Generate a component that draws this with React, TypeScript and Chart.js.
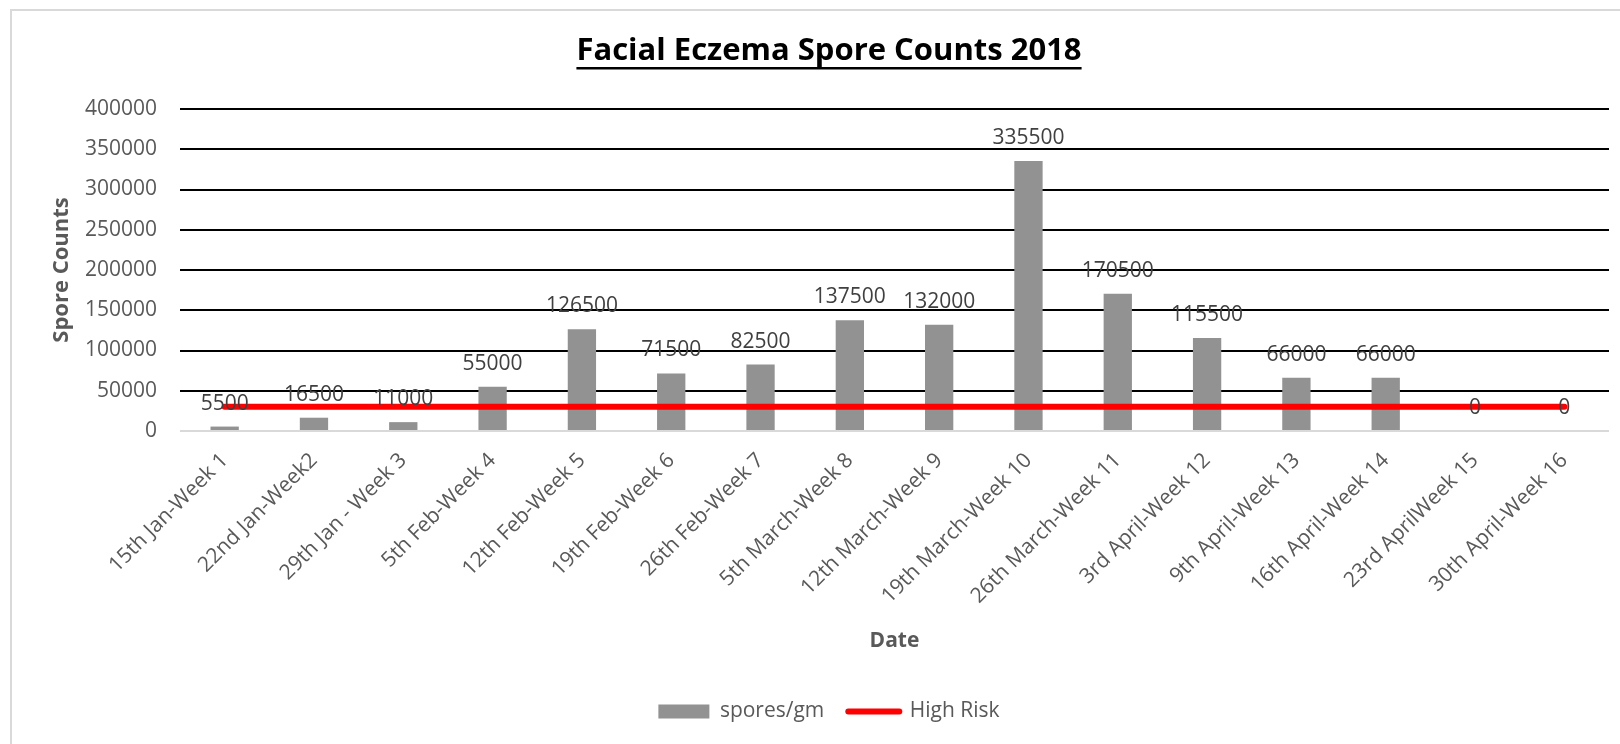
import React, { useEffect, useRef } from 'react';
import { Chart, registerables } from 'chart.js';

Chart.register(...registerables);

const chartTitle = 'Facial Eczema Spore Counts 2018';
const xAxisTitle = 'Date';
const yAxisTitle = 'Spore Counts';

const categories = [
  '15th Jan-Week 1',
  '22nd Jan-Week2',
  '29th Jan - Week 3',
  '5th Feb-Week 4',
  '12th Feb-Week 5',
  '19th Feb-Week 6',
  '26th Feb-Week 7',
  '5th March-Week 8',
  '12th March-Week 9',
  '19th March-Week 10',
  '26th March-Week 11',
  '3rd April-Week 12',
  '9th April-Week 13',
  '16th April-Week 14',
  '23rd AprilWeek 15',
  '30th April-Week 16',
];

const sporeCounts = [
  5500, 16500, 11000, 55000, 126500, 71500, 82500, 137500,
  132000, 335500, 170500, 115500, 66000, 66000, 0, 0,
];

const highRisk = [
  30000, 30000, 30000, 30000, 30000, 30000, 30000, 30000,
  30000, 30000, 30000, 30000, 30000, 30000, 30000, 30000,
];

const yMin = 0;
const yMax = 400000;
const yStep = 50000;

const FONT = "'Open Sans', 'Noto Sans', sans-serif";
const TITLE_SIZE = 31;

const framePlugin = {
  id: 'frame',
  beforeDraw(chart: any) {
    const { ctx } = chart;
    ctx.save();
    ctx.strokeStyle = '#d9d9d9';
    ctx.lineWidth = 2;
    ctx.strokeRect(11, 10, 3000, 3000);
    ctx.restore();
  },
};

const underlinePlugin = {
  id: 'titleUnderline',
  afterDraw(chart: any) {
    const tb = chart.titleBlock;
    if (!tb) return;
    const { ctx } = chart;
    ctx.save();
    ctx.font = `bold ${TITLE_SIZE}px ${FONT}`;
    const w = ctx.measureText(chartTitle).width;
    const cx = (tb.left + tb.right) / 2;
    const pad = tb.options.padding;
    const lh = TITLE_SIZE * 1.2;
    const mid = tb.top + (typeof pad === 'number' ? pad : pad.top) + lh / 2;
    ctx.fillStyle = '#000';
    ctx.fillRect(cx - w / 2, mid + 16, w, 2.5);
    ctx.restore();
  },
};

const dataLabelPlugin = {
  id: 'barLabels',
  afterDatasetsDraw(chart: any) {
    const meta = chart.getDatasetMeta(0);
    const { ctx } = chart;
    ctx.save();
    ctx.font = `21px ${FONT}`;
    ctx.fillStyle = '#404040';
    ctx.textAlign = 'center';
    ctx.textBaseline = 'alphabetic';
    meta.data.forEach((bar: any, i: number) => {
      ctx.fillText(String(sporeCounts[i]), bar.x, bar.y - 17);
    });
    ctx.restore();
  },
};

export default function App() {
  const canvasRef = useRef<HTMLCanvasElement | null>(null);

  useEffect(() => {
    if (!canvasRef.current) return;
    const chart = new Chart(canvasRef.current, {
      type: 'bar',
      data: {
        labels: categories,
        datasets: [
          {
            type: 'bar',
            label: 'spores/gm',
            data: sporeCounts,
            backgroundColor: '#929292',
            borderWidth: 0,
            categoryPercentage: 1,
            barPercentage: 0.317,
            order: 1,
          },
          {
            type: 'line',
            label: 'High Risk',
            data: highRisk,
            borderColor: '#ff0000',
            backgroundColor: '#ff0000',
            borderWidth: 6,
            borderCapStyle: 'round',
            pointRadius: 0,
            pointHoverRadius: 0,
            pointStyle: 'line',
            pointBorderWidth: 6,
            tension: 0,
            order: 0,
          } as any,
        ],
      },
      options: {
        responsive: true,
        maintainAspectRatio: false,
        animation: false,
        layout: { padding: { left: 49, right: 11, top: 0, bottom: 12 } },
        font: { family: FONT },
        plugins: {
          tooltip: { enabled: false },
          title: {
            display: true,
            text: chartTitle,
            color: '#000000',
            font: { family: FONT, size: TITLE_SIZE, weight: 'bold', lineHeight: 1.2 },
            padding: { top: 32.4, bottom: 39.4 },
          },
          legend: {
            display: true,
            position: 'bottom',
            labels: {
              usePointStyle: true,
              pointStyleWidth: 51,
              boxHeight: 14,
              padding: 24,
              color: '#595959',
              font: { family: FONT, size: 21 },
              sort: (a: any, b: any) => a.datasetIndex - b.datasetIndex,
              generateLabels: (c: any) => {
                const items = (Chart.defaults.plugins.legend.labels as any).generateLabels(c);
                items.forEach((it: any) => {
                  if (it.datasetIndex === 1) {
                    it.pointStyle = 'line';
                    it.lineCap = 'round';
                    it.lineWidth = 6;
                    it.strokeStyle = '#ff0000';
                  } else {
                    it.pointStyle = 'rect';
                    it.lineWidth = 0;
                    it.fillStyle = '#929292';
                  }
                });
                return items;
              },
            },
          },
        },
        scales: {
          x: {
            grid: { display: false, drawTicks: false },
            border: { display: false },
            ticks: {
              color: '#595959',
              font: { family: FONT, size: 21 },
              minRotation: 45,
              maxRotation: 45,
              autoSkip: false,
              padding: 17,
            },
            title: {
              display: true,
              text: xAxisTitle,
              color: '#595959',
              font: { family: FONT, size: 21, weight: 'bold', lineHeight: 1.2 },
              padding: { top: 0, bottom: 23 },
            },
            afterFit: (scale: any) => {
              scale.height = 246;
            },
          },
          y: {
            min: yMin,
            max: yMax,
            grid: {
              drawTicks: false,
              lineWidth: 2,
              color: (ctx: any) => (ctx.tick && ctx.tick.value === 0 ? '#d9d9d9' : '#000000'),
            },
            border: { display: false },
            ticks: {
              stepSize: yStep,
              color: '#595959',
              font: { family: FONT, size: 21 },
              padding: 23,
              callback: (value: any) => String(value),
            },
            title: {
              display: true,
              text: yAxisTitle,
              color: '#595959',
              font: { family: FONT, size: 22, weight: 'bold', lineHeight: 1.2 },
              padding: { top: 0, bottom: 0 },
            },
            afterFit: (scale: any) => {
              scale.width = 131;
            },
          },
        },
      },
      plugins: [framePlugin, underlinePlugin, dataLabelPlugin],
    } as any);
    return () => chart.destroy();
  }, []);

  return (
    <div style={{ position: 'absolute', left: 0, top: 0, width: 1620, height: 744, background: '#ffffff' }}>
      <canvas ref={canvasRef} />
    </div>
  );
}
